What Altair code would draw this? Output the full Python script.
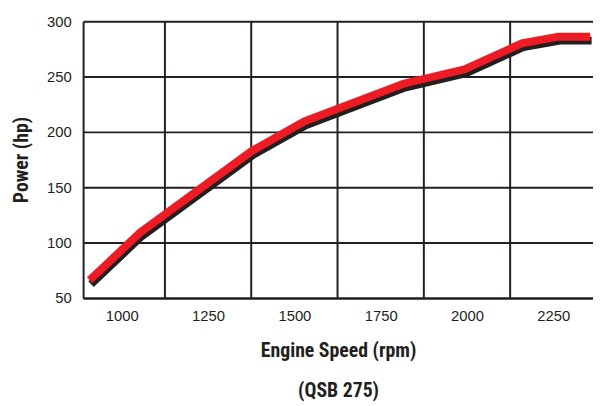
import altair as alt
import pandas as pd

# Data
rpm = [907, 1053, 1378, 1529, 1816, 1993, 2159, 2265, 2357]
power = [66, 109, 183, 209.5, 243.5, 256.5, 280, 286, 286]

x_ticks = [1000, 1250, 1500, 1750, 2000, 2250]
x_grid = [1125, 1375, 1625, 1875, 2125]
y_ticks = [50, 100, 150, 200, 250, 300]

df = pd.DataFrame({"rpm": rpm, "power": power})
grid_df = pd.DataFrame({"g": x_grid})

GRID = "#231f20"
TITLE_FONT = "Roboto Condensed, Liberation Sans Narrow, Roboto, sans-serif"
LABEL_FONT = "Liberation Sans, Arial, sans-serif"

xscale = alt.Scale(domain=[888, 2365], nice=False, zero=False)
yscale = alt.Scale(domain=[50, 300], nice=False, zero=False)

base = alt.Chart(df)

shadow = base.transform_calculate(
    sx="datum.rpm + 4", sy="datum.power - 3.5"
).mark_line(color="#231f20", strokeWidth=8, strokeCap="butt", strokeJoin="miter").encode(
    x=alt.X("sx:Q", scale=xscale,
            axis=alt.Axis(values=x_ticks, format="d", grid=False, ticks=False, domain=True,
                          domainColor=GRID, domainWidth=2,
                          labelFont=LABEL_FONT, labelFontSize=15,
                          labelColor="#231f20", labelPadding=11,
                          title=["Engine Speed (rpm)", "(QSB 275)"],
                          titleFont=TITLE_FONT, titleFontSize=20, titleFontWeight="bold",
                          titleColor="#231f20", titleLineHeight=41,
                          titleX=258, titleY=53, titleBaseline="middle", titleAlign="center")),
    y=alt.Y("sy:Q", scale=yscale,
            axis=alt.Axis(values=y_ticks, format="d", grid=True, gridColor=GRID, gridWidth=2,
                          gridOpacity=1, ticks=False, domain=True, domainColor=GRID,
                          domainWidth=2, labelFont=LABEL_FONT, labelFontSize=15,
                          labelColor="#231f20", labelPadding=12,
                          title="Power (hp)", titleFont=TITLE_FONT, titleFontSize=20,
                          titleFontWeight="bold", titleColor="#231f20",
                          titleX=-62, titleY=140, titleAngle=270,
                          titleAlign="center", titleBaseline="middle")),
    order=alt.Order("rpm:Q"),
)

red = base.mark_line(color="#ed1c24", strokeWidth=8, strokeCap="butt", strokeJoin="miter").encode(
    x=alt.X("rpm:Q", scale=xscale),
    y=alt.Y("power:Q", scale=yscale),
    order=alt.Order("rpm:Q"),
)

vgrid = alt.Chart(grid_df).mark_rule(color=GRID, strokeWidth=2).encode(
    x=alt.X("g:Q", scale=xscale)
)

chart = alt.layer(vgrid, shadow, red).properties(
    width=516, height=280,
    autosize=alt.AutoSizeParams(type="none"),
    padding={"left": 76, "top": 11, "right": 0, "bottom": 105},
).configure_view(stroke=None).configure(background="white")

chart.save("out.html", embed_options={"renderer": "svg", "actions": False})
